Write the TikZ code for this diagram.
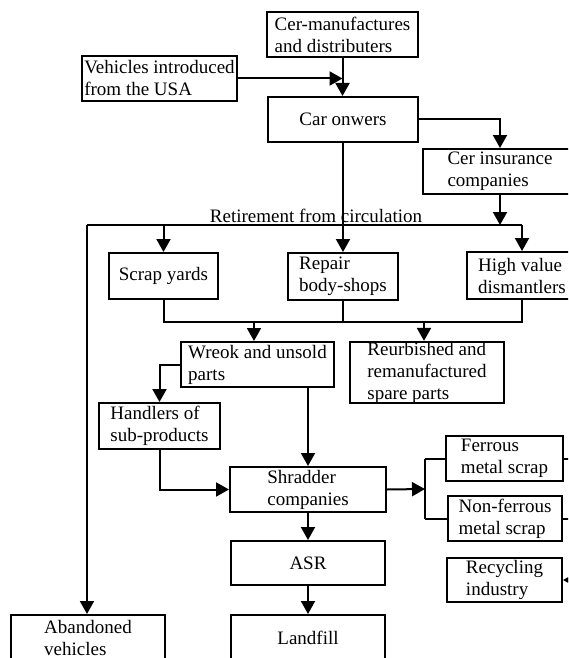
\documentclass[tikz,border=0pt]{standalone}
\usepackage{fontspec}
\setmainfont{Liberation Serif}
\usetikzlibrary{arrows.meta}
\begin{document}
\begin{tikzpicture}[x=1pt,y=-1pt,
  box/.style={draw, line width=2pt, inner sep=0pt, align=left, font=\fontsize{19}{22}\selectfont},
  conn/.style={line width=2pt},
  arr/.style={conn, -{Triangle[length=13pt,width=14pt]}},
  lbl/.style={font=\fontsize{19}{22}\selectfont, inner sep=0pt}
]
\useasboundingbox (0,0) rectangle (568,658);
\clip (0,0) rectangle (568,658);
\fill[white] (0,0) rectangle (568,658);

\node[box, minimum width=151pt, minimum height=45pt] (cer) at (342.5,34.5) {Cer-manufactures\\and distributers};
\node[box, minimum width=155pt, minimum height=45pt] (veh) at (159.5,78.5) {Vehicles introduced\\from the USA};
\node[box, minimum width=150pt, minimum height=45pt] (own) at (343,119.5) {Car onwers};
\node[box, minimum width=154pt, minimum height=45pt] (ins) at (500,171.5) {Cer insurance\\companies};
\node[box, minimum width=109pt, minimum height=46pt] (scrap) at (163.5,276) {Scrap yards};
\node[box, minimum width=110pt, minimum height=47pt] (rep) at (343,276.5) {Repair\\body-shops};
\node[box, minimum width=110pt, minimum height=47pt] (high) at (522,275.5) {High value\\dismantlers};
\node[box, minimum width=153pt, minimum height=45pt] (wreok) at (257.5,364.5) {Wreok and unsold\\parts};
\node[box, minimum width=154pt, minimum height=61pt] (reur) at (427,372.5) {Reurbished and\\remanufactured\\spare parts};
\node[box, minimum width=121pt, minimum height=46pt] (hand) at (159.5,426) {Handlers of\\sub-products};
\node[box, minimum width=156pt, minimum height=45pt] (shr) at (308,489.5) {Shradder\\companies};
\node[box, minimum width=117pt, minimum height=45pt] (fer) at (504.5,458.5) {Ferrous\\metal scrap};
\node[box, minimum width=114pt, minimum height=45pt] (nonf) at (505,518.5) {Non-ferrous\\metal scrap};
\node[box, minimum width=154pt, minimum height=44pt] (asr) at (308,563) {ASR};
\node[box, minimum width=115pt, minimum height=44pt] (rec) at (504.5,580) {Recycling\\industry};
\node[box, minimum width=154pt, minimum height=45pt] (land) at (308,637.5) {Landfill};
\node[box, minimum width=154pt, minimum height=45pt] (aban) at (88,637.5) {Abandoned\\vehicles};

\node[lbl, anchor=base] (ret) at (316,222) {Retirement from circulation};

\coordinate (rL) at (87,225);
\coordinate (rR) at (522,225);
\coordinate (jL) at (163,322);
\coordinate (wA) at (254,322);
\coordinate (rA) at (424,322);
\coordinate (fj) at (425,489);
\coordinate (ferOut) at (585,458.5);
\coordinate (nonfOut) at (585,518.5);
\coordinate (recIn) at (585,580);

\draw[arr] (veh.east) -- (veh.east -| cer.south);
\draw[arr] (cer.south) -- (cer.south |- own.north);
\draw[arr] (own.east) -| (ins.north);
\draw[arr] (ins.south) -- (ins.south |- rR);
\draw[conn] (rL) -- (rR);
\draw[arr] (own.south) -- (rep.north);
\draw[arr] (rL -| scrap.north) -- (scrap.north);
\draw[arr] (rR) -- (high.north);
\draw[arr] (rL) -- (rL |- aban.north);
\draw[conn] (scrap.south) -- (scrap.south |- jL) -- (high.south |- jL) -- (high.south);
\draw[conn] (rep.south) -- (rep.south |- jL);
\draw[arr] (wA) -- (wA |- wreok.north);
\draw[arr] (rA) -- (rA |- reur.north);
\draw[arr] (wreok.west) -| (hand.north);
\draw[arr] (wreok.south -| shr.north) -- (shr.north);
\draw[arr] (hand.south) |- (shr.west);
\draw[arr] (shr.east) -- (fj);
\draw[conn] (fer.west -| fj) -- (nonf.west -| fj);
\draw[conn] (fer.west) -- (fer.west -| fj);
\draw[conn] (nonf.west) -- (nonf.west -| fj);
\draw[arr] (shr.south) -- (asr.north);
\draw[arr] (asr.south) -- (land.north);
\draw[conn] (fer.east) -- (ferOut);
\draw[conn] (nonf.east) -- (nonfOut);
\draw[arr] (recIn) -- (rec.east);
\end{tikzpicture}
\end{document}
